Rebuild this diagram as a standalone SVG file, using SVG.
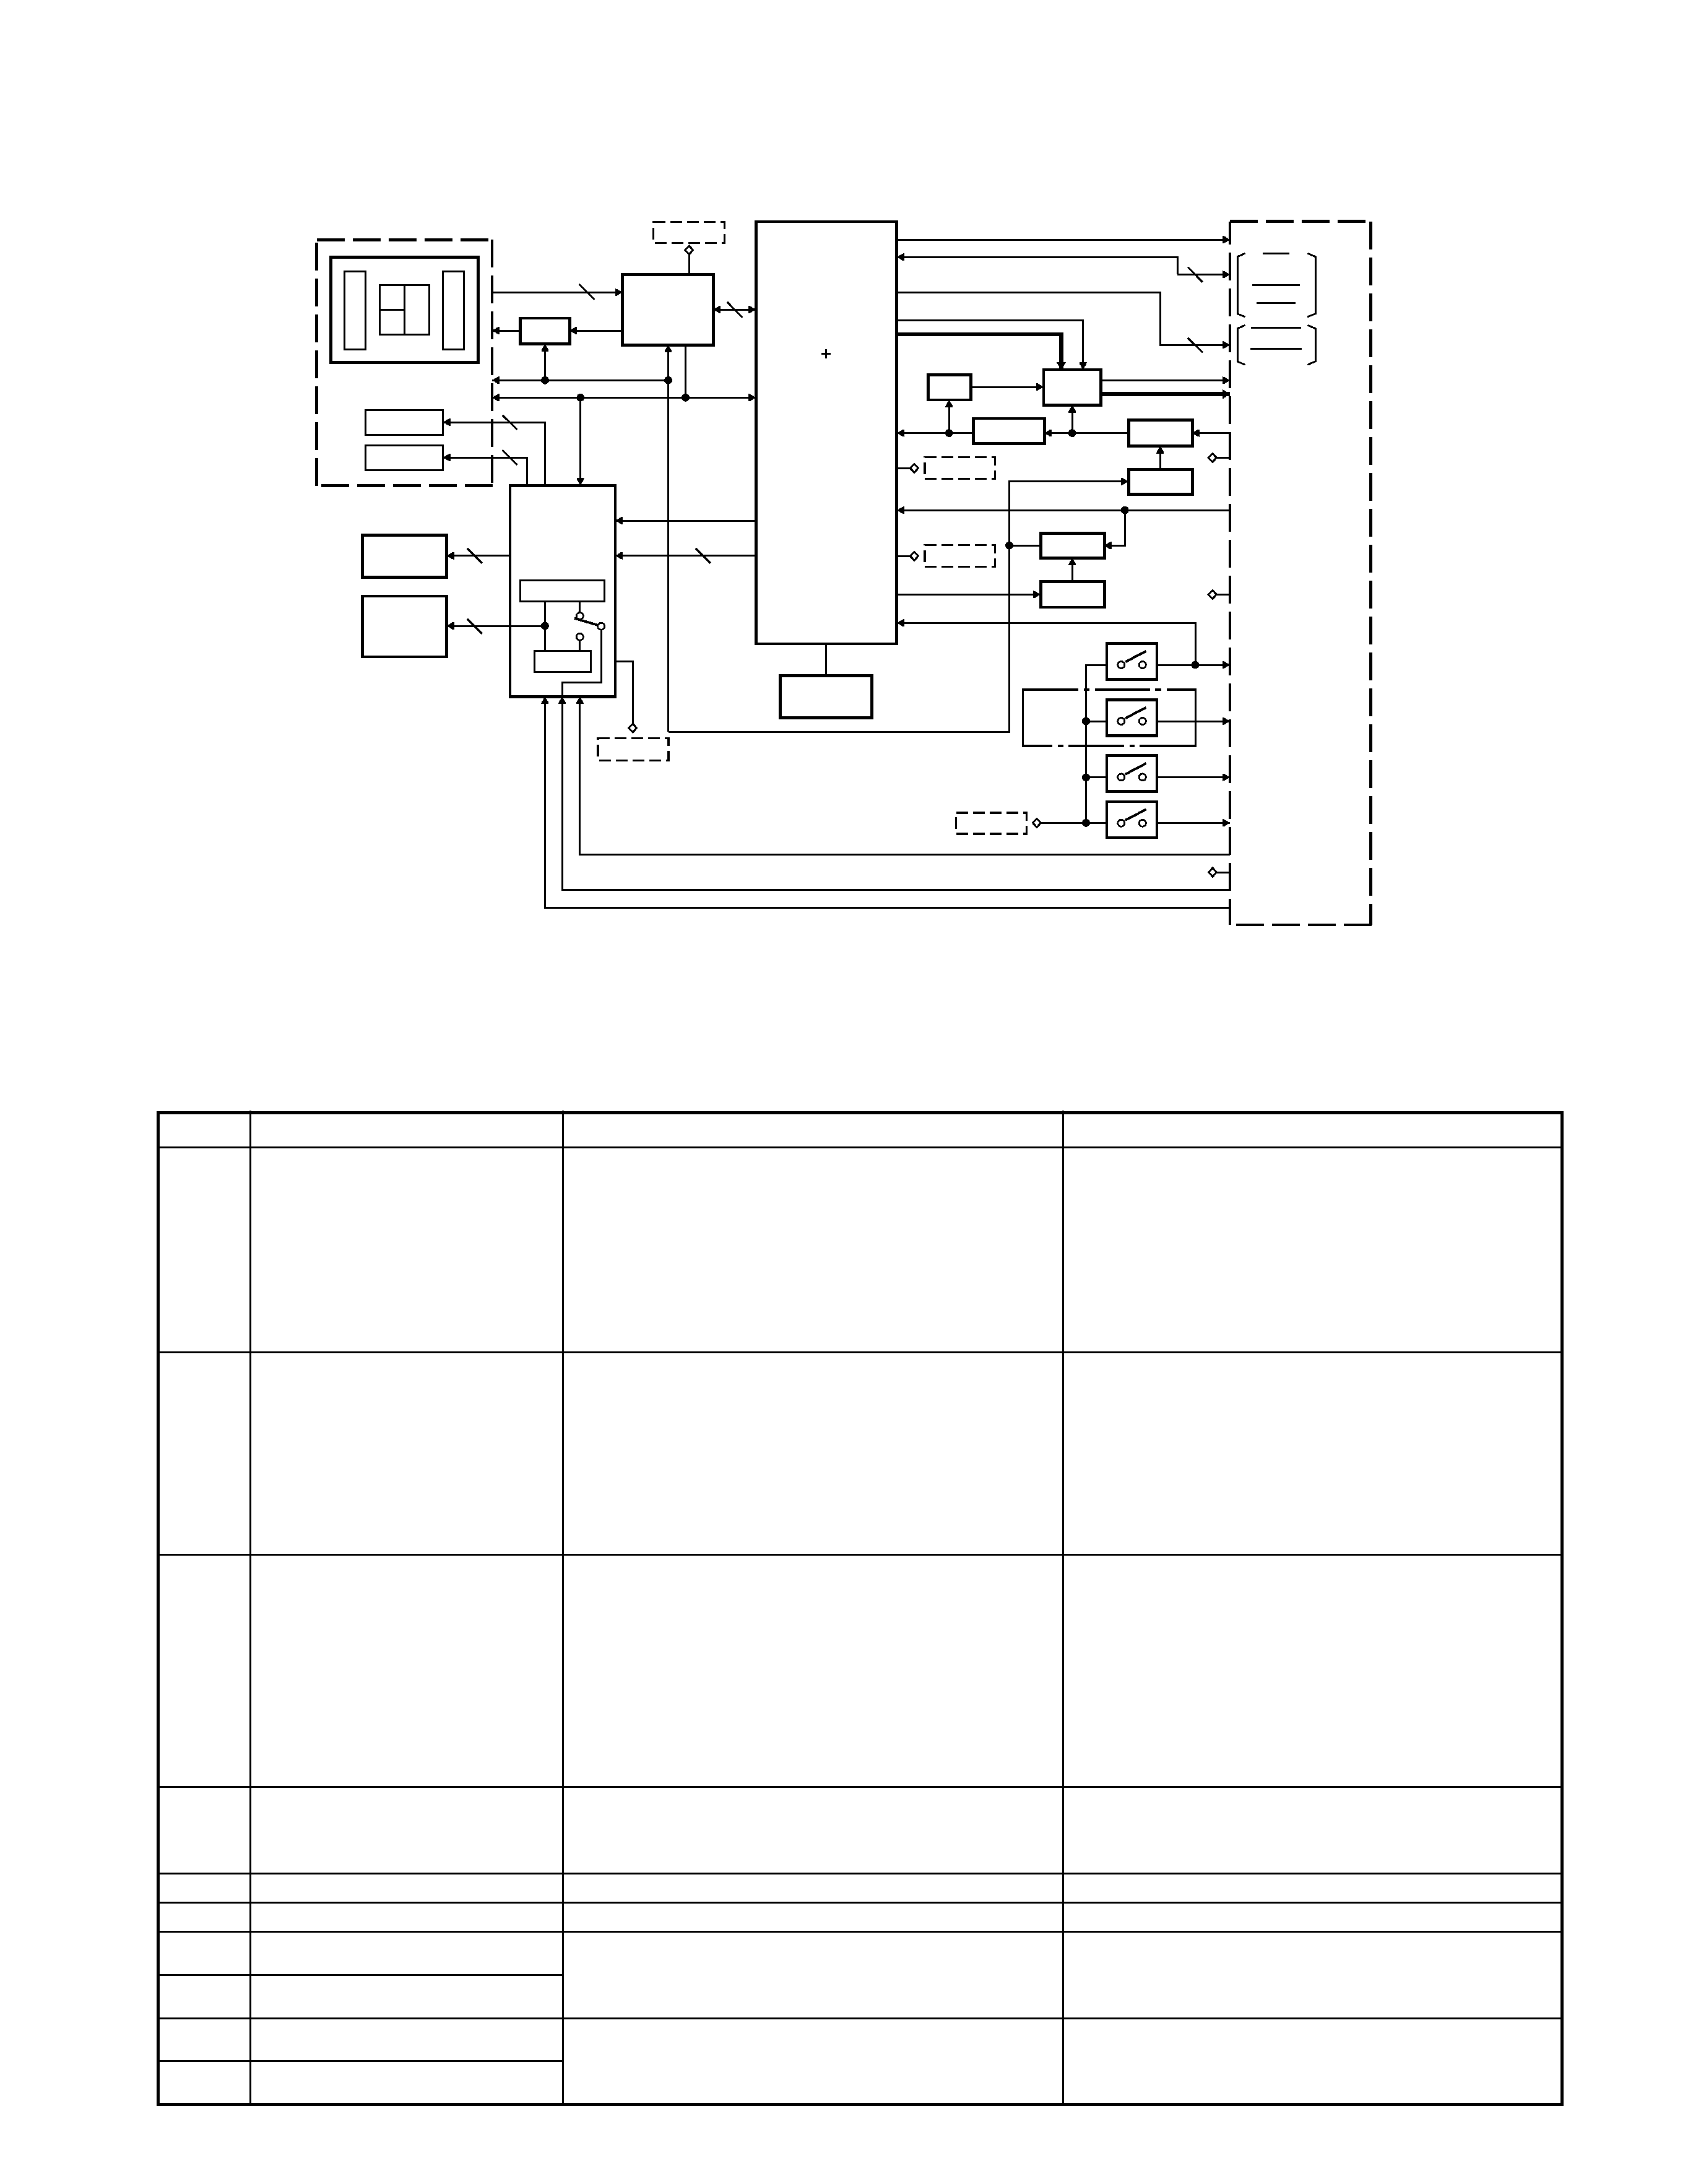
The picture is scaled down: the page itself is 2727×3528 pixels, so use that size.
<svg xmlns="http://www.w3.org/2000/svg" width="2727" height="3528" viewBox="0 0 2727 3528" shape-rendering="crispEdges">
<style>
  rect.bg { fill: #fff; stroke: none; }
  .box { fill: none; stroke: #000; stroke-width: 4.7; }
  .sub { fill: none; stroke: #000; stroke-width: 3; }
  .frame { fill: none; stroke: #000; stroke-width: 3.4; }
  .wall { fill: none; stroke: #000; stroke-width: 4.7; stroke-dasharray: 45 13; }
  .ext { fill: none; stroke: #000; stroke-width: 3.6; stroke-dasharray: 19 8; }
  .w { fill: none; stroke: #000; stroke-width: 3; }
  .wb { fill: none; stroke: #000; stroke-width: 6.5; }
  .arm { fill: none; stroke: #000; stroke-width: 4; }
  .in { marker-end: url(#arr); }
  .two { marker-start: url(#arrS); marker-end: url(#arr); }
  .bus { marker-end: url(#arrB); }
  .dot { fill: #000; stroke: none; }
  .pin { fill: #fff; stroke: #000; stroke-width: 3; }
  .tb { fill: none; stroke: #000; stroke-width: 5; }
  .tl { fill: none; stroke: #000; stroke-width: 3; }
</style>
<defs>
  <marker id="arr" markerUnits="userSpaceOnUse" markerWidth="14" markerHeight="14" refX="12" refY="6" orient="auto" overflow="visible"><path d="M0,0 L3,0.4 L12,6 L3,11.6 L0,12 Z" fill="#000"/></marker>
  <marker id="arrS" markerUnits="userSpaceOnUse" markerWidth="14" markerHeight="14" refX="12" refY="6" orient="auto-start-reverse" overflow="visible"><path d="M0,0 L3,0.4 L12,6 L3,11.6 L0,12 Z" fill="#000"/></marker>
  <marker id="arrB" markerUnits="userSpaceOnUse" markerWidth="14" markerHeight="16" refX="12" refY="8" orient="auto" overflow="visible"><path d="M0,0 L12,8 L0,16 Z" fill="#000"/></marker>
  <g id="sw">
    <rect class="box" x="0" y="0" width="81" height="58"/>
    <circle class="pin" cx="23.3" cy="34.7" r="5.5"/>
    <circle class="pin" cx="57.8" cy="34.7" r="5.5"/>
    <path class="arm" d="M30,30 L63.6,12.4"/>
  </g>
  <polygon id="pin" class="pin" points="0,-7 6.5,0 0,7 -6.5,0"/>
</defs>
<rect class="bg" width="2727" height="3528"/>

<!-- signal wiring -->
<g id="connectors">
  <path class="w in" d="M795,472.3H1005.5"/>
  <path class="w in" d="M1005.5,534H920.3"/>
  <path class="w in" d="M840.7,534H795"/>
  <path class="w in" d="M880.5,614.3V555.7"/>
  <path class="w in" d="M1079.5,614.3H795"/>
  <path class="w in" d="M1079.5,1182.3V557.3"/>
  <path class="w two" d="M1221,642.3H795"/>
  <path class="w" d="M1107.5,557.3V642.3"/>
  <path class="w in" d="M937.7,642.3V784"/>
  <path class="w two" d="M1152.4,500H1221"/>
  <path class="w in" d="M880.5,784V682H715.7"/>
  <path class="w in" d="M851.4,784V739H715.7"/>
  <path class="w" d="M1113.2,443.3V410"/>

  <path class="w in" d="M824,897.7H721.6"/>
  <path class="w in" d="M880.4,1011H721.6"/>
  <path class="w" d="M880.4,971V1051"/>
  <path class="w" d="M936.8,971V989"/>
  <path class="w" d="M936.8,1035V1051"/>
  <path class="w" d="M971.2,1018V1102H908.2V1125"/>
  <path class="w in" d="M1221,841H994"/>
  <path class="w in" d="M1221,897.7H994"/>
  <path class="w" d="M994,1068.3H1022.2V1170"/>
  <path class="w" d="M1334.3,1040V1091"/>

  <path class="w in" d="M1449,387.1H1987"/>
  <path class="w in" d="M1902.4,443.4V415.3H1449"/>
  <path class="w in" d="M1902.4,443.4H1987"/>
  <path class="w in" d="M1449,472.9H1874.3V557.2H1987"/>
  <path class="w in" d="M1449,517.5H1749.6V597"/>
  <path class="wb bus" d="M1449,539.8H1714.4V597"/>
  <path class="w in" d="M1568,625H1685.6"/>
  <path class="w in" d="M1777.8,614.4H1987"/>
  <path class="wb bus" d="M1777.8,636.7H1987"/>
  <path class="w in" d="M1533.3,699.6V646"/>
  <path class="w in" d="M1572.4,699.6H1449"/>
  <path class="w in" d="M1822.8,699.6H1687.3"/>
  <path class="w in" d="M1732.2,699.6V654.5"/>
  <path class="w in" d="M1987,699.6H1925.7"/>
  <path class="w in" d="M1874.3,758.6V720.6"/>
  <path class="w" d="M1987,739.4H1965"/>
  <path class="w" d="M1449,756.3H1471"/>
  <path class="w" d="M1449,898.3H1471"/>
  <path class="w in" d="M1079.8,1182.3H1630.6V777.8H1822.8"/>
  <path class="w in" d="M1987,824.2H1449"/>
  <path class="w in" d="M1817.3,824.2V881.3H1783.7"/>
  <path class="w" d="M1680.8,881.3H1630.6"/>
  <path class="w in" d="M1732.2,939.4V901.4"/>
  <path class="w in" d="M1449,960.4H1680.8"/>
  <path class="w" d="M1987,960.4H1965"/>
  <path class="w in" d="M1931,1074V1006.3H1449"/>

  <path class="w" d="M1788,1074H1754.5V1329.3"/>
  <path class="w" d="M1754.5,1165H1788"/>
  <path class="w" d="M1754.5,1255.7H1788"/>
  <path class="w" d="M1681,1329.3H1788"/>
  <path class="w in" d="M1869,1074H1987"/>
  <path class="w in" d="M1869,1165H1987"/>
  <path class="w in" d="M1869,1255.7H1987"/>
  <path class="w in" d="M1869,1329.3H1987"/>

  <path class="w in" d="M1987,1380H936.8V1125.3"/>
  <path class="w in" d="M1987,1437.3H908.2V1125.3"/>
  <path class="w in" d="M1987,1466.7H880.4V1125.3"/>
  <path class="w" d="M1987,1409H1965"/>

  <!-- bus width ticks -->
  <g id="ticks" class="w">
    <path d="M935.6,459.3L960.6,484.3"/>
    <path d="M1175,488L1199.4,513"/>
    <path d="M811.6,670.7L835.6,694"/>
    <path d="M811.6,727L835.6,750.7"/>
    <path d="M755,886L779,910"/>
    <path d="M755,1000L779,1024"/>
    <path d="M1124,886L1148,910"/>
    <path d="M1919,431.8L1943,455.9"/>
    <path d="M1919,546L1943,569.7"/>
  </g>

  <!-- junctions -->
  <g id="joints" class="dot">
    <circle cx="880.5" cy="614.3" r="6.5"/>
    <circle cx="1079.5" cy="614.3" r="6.5"/>
    <circle cx="937.7" cy="642.3" r="6.5"/>
    <circle cx="1107.5" cy="642.3" r="6.5"/>
    <circle cx="880.4" cy="1011" r="6.5"/>
    <circle cx="1533.3" cy="699.6" r="6.5"/>
    <circle cx="1732.2" cy="699.6" r="6.5"/>
    <circle cx="1817.3" cy="824.2" r="6.5"/>
    <circle cx="1630.6" cy="881.3" r="6.5"/>
    <circle cx="1931" cy="1074" r="6.5"/>
    <circle cx="1754.5" cy="1165" r="6.5"/>
    <circle cx="1754.5" cy="1255.7" r="6.5"/>
    <circle cx="1754.5" cy="1329.3" r="6.5"/>
  </g>

  <!-- terminals -->
  <use href="#pin" x="1113.2" y="404"/>
  <use href="#pin" x="1022.2" y="1176"/>
  <use href="#pin" x="1477" y="756.3"/>
  <use href="#pin" x="1477" y="898.3"/>
  <use href="#pin" x="1958.8" y="739.4"/>
  <use href="#pin" x="1958.8" y="960.4"/>
  <use href="#pin" x="1959" y="1409"/>
  <use href="#pin" x="1675" y="1329.3"/>
</g>

<g id="unit-left">
  <path class="wall" d="M511.6,387.3H790"/>
  <path class="wall" d="M511.6,392V785"/>
  <path class="wall" d="M795,387.3V780"/>
  <path class="wall" d="M519.3,784.3H797"/>
</g>
<g id="panel">
  <rect class="box" x="534.6" y="415.7" width="237.8" height="170"/>
  <rect class="sub" x="556.5" y="438.3" width="34.2" height="125.7"/>
  <rect class="sub" x="715.7" y="438.3" width="33.7" height="125.7"/>
  <rect class="sub" x="613.7" y="460" width="79.6" height="80.7"/>
  <path class="sub" d="M653.5,460V540.7M613.7,500H653.5"/>
</g>
<g id="lamp-a"><rect class="sub" x="590.7" y="662.3" width="125" height="40"/></g>
<g id="lamp-b"><rect class="sub" x="590.7" y="719" width="125" height="40.3"/></g>
<g id="buffer"><rect class="box" x="840.7" y="514" width="79.6" height="41.7"/></g>
<g id="controller"><rect class="box" x="1005.5" y="443.3" width="146.9" height="114"/></g>
<g id="ext-top"><rect class="ext" x="1055.5" y="358.3" width="114.8" height="34.4"/></g>
<g id="main-unit">
  <rect class="box" x="1221.7" y="358" width="227" height="682"/>
  <path class="w" d="M1326.8,571.3H1341.8M1334.3,563.8V578.8"/>
</g>
<g id="clock"><rect class="box" x="1260.3" y="1091.3" width="148.4" height="68"/></g>

<g id="decoder">
  <rect class="box" x="824" y="784.3" width="170" height="341"/>
  <rect class="sub" x="840.2" y="937.3" width="136.4" height="34"/>
  <rect class="sub" x="863.4" y="1051" width="91.2" height="34.3"/>
  <path class="arm" d="M928,998.7L966,1010"/>
  <circle class="pin" cx="936.8" cy="995" r="5.5"/>
  <circle class="pin" cx="971.2" cy="1011.7" r="5.5"/>
  <circle class="pin" cx="936.8" cy="1028.7" r="5.5"/>
</g>
<g id="out-a"><rect class="box" x="585.2" y="864.3" width="136.4" height="68.4"/></g>
<g id="out-b"><rect class="box" x="585.2" y="963" width="136.4" height="98"/></g>
<g id="ext-low"><rect class="ext" x="965.8" y="1192.3" width="114" height="36"/></g>

<g id="amp-f"><rect class="box" x="1499.6" y="605.4" width="68.8" height="40.6"/></g>
<g id="mixer"><rect class="box" x="1686" y="597" width="92.2" height="57.5"/></g>
<g id="amp-g"><rect class="box" x="1572.8" y="676" width="114.9" height="40.6"/></g>
<g id="amp-h"><rect class="box" x="1823.3" y="678.7" width="102.9" height="41.9"/></g>
<g id="amp-i"><rect class="box" x="1823.3" y="758.6" width="102.9" height="40.2"/></g>
<g id="amp-j"><rect class="box" x="1681.3" y="861.2" width="102.9" height="40.2"/></g>
<g id="amp-k"><rect class="box" x="1681.3" y="939.4" width="102.9" height="41.5"/></g>
<g id="ext-mid-a"><rect class="ext" x="1493.8" y="738.5" width="113.8" height="34.8"/></g>
<g id="ext-mid-b"><rect class="ext" x="1493.8" y="880.4" width="113.8" height="34.9"/></g>
<g id="ext-sw"><rect class="ext" x="1544.5" y="1312.7" width="114" height="34"/></g>

<g id="switch-1"><use href="#sw" x="1788" y="1039.3"/></g>
<g id="switch-2"><use href="#sw" x="1788" y="1130.3"/></g>
<g id="switch-3"><use href="#sw" x="1788" y="1220.7"/></g>
<g id="switch-4"><use href="#sw" x="1788" y="1295"/></g>
<g id="option-frame">
  <path class="frame" d="M1741.7,1114H1652.6V1205H1700M1750.8,1114H1760.3M1768.6,1114H1857.8M1866,1114H1876.4M1884.7,1114H1931.6V1205H1841M1833,1205H1824.6M1815.5,1205H1726M1717.6,1205H1708.5"/>
</g>

<g id="unit-right">
  <path class="wall" d="M1987,357.7H2208"/>
  <path class="wall" stroke-dashoffset="8" d="M1987,357.7V1494"/>
  <path class="wall" d="M2214.5,358V1494"/>
  <path class="wall" d="M1997,1494H2216.5"/>
  <path class="sub" d="M2011.7,409.3L1999,414.7V506.7L2011.7,512M2112.3,409.3L2125,414.7V506.7L2112.3,512"/>
  <path class="sub" d="M2040,409.3H2082.7M2023,460.3H2100M2030,489.3H2093"/>
  <path class="sub" d="M2011.7,525.3L1999,530.7V584L2011.7,589.3M2112.3,525.3L2125,530.7V584L2112.3,589.3"/>
  <path class="sub" d="M2021,529.3H2102M2020,563.3H2103"/>
</g>

<!-- lower grid -->
<g id="table">
  <path class="tl" d="M255.5,1853.3H2523.7M255.5,2184.2H2523.7M255.5,2511.7H2523.7M255.5,2886.4H2523.7M255.5,3026.3H2523.7M255.5,3073H2523.7M255.5,3120H2523.7M255.5,3190H909.5M255.5,3260.5H2523.7M255.5,3329.6H909.5"/>
  <path class="tl" d="M404.5,1794V3399.5M909.5,1794V3399.5M1717,1794V3399.5"/>
  <rect class="tb" x="255.5" y="1797.5" width="2268.2" height="1602"/>
</g>
</svg>
